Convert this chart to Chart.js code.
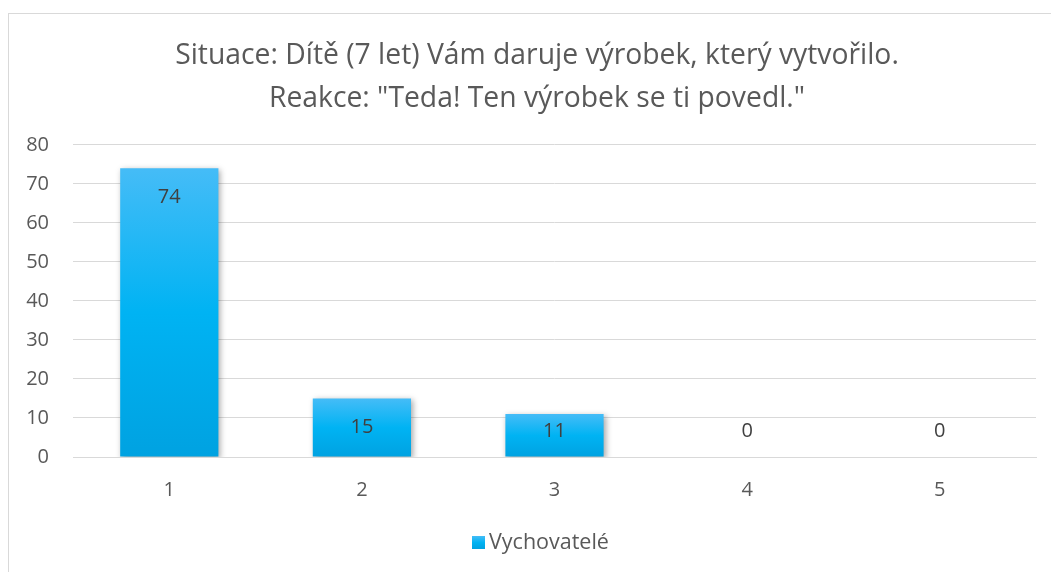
<!DOCTYPE html>
<html><head><meta charset="utf-8">
<script src="https://cdn.jsdelivr.net/npm/chart.js@4.4.0/dist/chart.umd.min.js"></script>
<style>html,body{margin:0;padding:0;background:#fff;}#wrap{width:1051px;height:572px;position:relative;}</style>
</head><body><div id="wrap"><canvas id="c" width="1051" height="572"></canvas></div>
<script>
const categories = ['1','2','3','4','5'];
const seriesName = 'Vychovatelé';
const values = [74, 15, 11, 0, 0];
const titleLines = ['Situace: Dítě (7 let) Vám daruje výrobek, který vytvořilo.', 'Reakce: "Teda! Ten výrobek se ti povedl."'];
const FONT = '"Open Sans"';
const TXT = '#595959';

function barGradient(ctx, top, bottom){
  const g = ctx.createLinearGradient(0, top, 0, bottom);
  g.addColorStop(0, '#45BCF7');
  g.addColorStop(0.5, '#00B3F3');
  g.addColorStop(1, '#00A2E1');
  return g;
}

const framePlugin = {
  id: 'frame',
  beforeDraw(chart){
    const c = chart.ctx; c.save();
    c.strokeStyle = '#D9D9D9'; c.lineWidth = 1;
    c.strokeRect(8.5, 13.5, 1100, 600);
    c.restore();
  }
};
const titleShift = {
  id: 'titleShift',
  afterLayout(chart){
    if (chart.titleBlock) chart.titleBlock.left += 38;
  }
};
const shadowPlugin = {
  id: 'shadow',
  beforeDatasetsDraw(chart){
    const c = chart.ctx; c.save();
    c.shadowColor = 'rgba(0,0,0,0.35)'; c.shadowBlur = 6; c.shadowOffsetX = 2; c.shadowOffsetY = 2;
  },
  afterDatasetsDraw(chart){ chart.ctx.restore(); }
};
const labelPlugin = {
  id: 'labels',
  afterDatasetsDraw(chart){
    const c = chart.ctx; const meta = chart.getDatasetMeta(0);
    const base = chart.scales.y.getPixelForValue(0);
    c.save(); c.font = '20px ' + FONT; c.fillStyle = '#404040'; c.textAlign = 'center'; c.textBaseline = 'middle';
    meta.data.forEach((el, i) => {
      const v = chart.data.datasets[0].data[i];
      const y = Math.min(el.y + 29, base - 26);
      c.fillText(String(v), el.x, y);
    });
    c.restore();
  }
};
const legendPlugin = {
  id: 'customLegend',
  afterDraw(chart){
    const c = chart.ctx; c.save();
    const bx = 472, by = 536, bs = 13;
    c.fillStyle = barGradient(c, by, by + bs);
    c.fillRect(bx, by, bs, bs);
    c.font = '21.5px ' + FONT; c.fillStyle = TXT; c.textAlign = 'left'; c.textBaseline = 'middle';
    c.fillText(chart.data.datasets[0].label, bx + bs + 4, by + bs / 2);
    c.restore();
  }
};

new Chart(document.getElementById('c'), {
  type: 'bar',
  data: { labels: categories, datasets: [{
    label: seriesName, data: values,
    backgroundColor: (ctx) => {
      const chart = ctx.chart;
      if (ctx.type !== 'data' || !chart.scales.y) return '#00B0F0';
      const y = chart.scales.y;
      const top = y.getPixelForValue(ctx.parsed.y), bot = y.getPixelForValue(0);
      if (!(bot > top)) return '#00B0F0';
      return barGradient(chart.ctx, top, bot);
    },
    borderWidth: 0, categoryPercentage: 1, barPercentage: 0.51
  }]},
  options: {
    responsive: false, animation: false,
    layout: { padding: { left: 0, right: 15, top: 21, bottom: 49 } },
    scales: {
      x: { grid: { display: false, drawTicks: false }, border: { color: '#D9D9D9' },
           ticks: { color: TXT, font: { family: FONT, size: 20 }, padding: 21 },
           afterFit: (s) => { s.height = 66; } },
      y: { min: 0, max: 80, ticks: { stepSize: 10, color: TXT, font: { family: FONT, size: 20 }, padding: 24 },
           grid: { color: '#D9D9D9', drawTicks: false }, border: { display: false },
           afterFit: (s) => { s.width = 73; } }
    },
    plugins: {
      title: { display: true, text: titleLines, color: TXT, font: { family: FONT, size: 28.3, weight: 'normal', lineHeight: 1.5 }, padding: { top: 14, bottom: 25 } },
      legend: { display: false },
      tooltip: { enabled: false }
    }
  },
  plugins: [framePlugin, titleShift, shadowPlugin, labelPlugin, legendPlugin]
});
</script></body></html>
